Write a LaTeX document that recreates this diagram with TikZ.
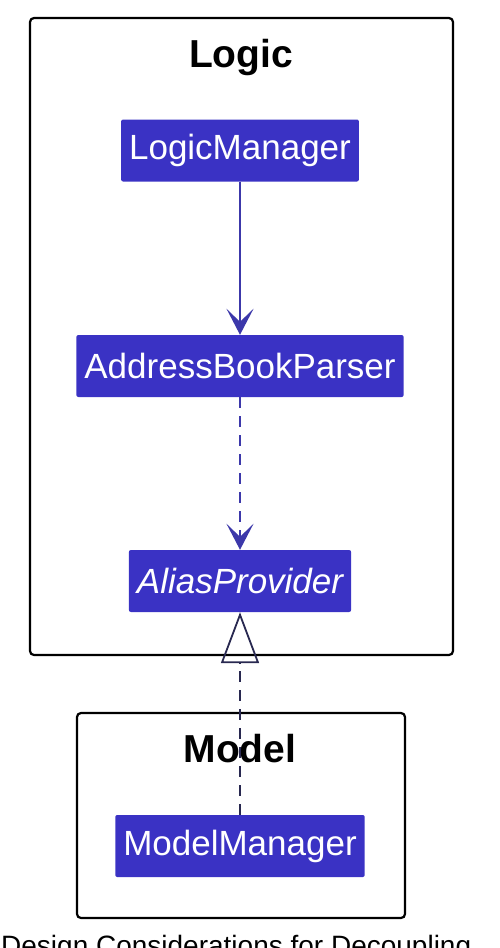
\documentclass[tikz,border=0pt]{standalone}
\usepackage{fontspec}
\setmainfont{Liberation Sans}
\usetikzlibrary{arrows.meta}

\definecolor{classblue}{RGB}{58,50,196}
\definecolor{linkblue}{RGB}{60,56,170}
\definecolor{linkdark}{RGB}{40,40,80}

\tikzset{x=1pt, y=-1pt, node font=\fontsize{35}{40}\selectfont}
\tikzset{
  frame/.style={draw=black, line width=2.2pt, rounded corners=4pt, inner sep=0pt},
  frametitle/.style={font=\fontsize{39}{44}\selectfont\bfseries, anchor=base},
  classbox/.style={fill=classblue, text=white, rounded corners=2pt,
    minimum height=62pt, inner xsep=8pt, inner ysep=0pt},
  assoc/.style={draw=linkblue, line width=2pt,
    -{Stealth[length=26pt, width=27pt, inset=13pt]}},
  dashedlink/.style={dash pattern=on 11pt off 8pt},
  realize/.style={draw=linkdark, line width=1.8pt, dash pattern=on 11pt off 8pt,
    -{Triangle[open, length=51pt, width=38pt, line width=1.8pt]}}
}

\begin{document}
\begin{tikzpicture}
  \useasboundingbox (0,0) rectangle (500,948);

  % packages
  \node [frame, minimum width=423pt, minimum height=637pt] (logic) at (241.5,336.5) {};
  \node [frametitle] (logictitle) at (241,67) {Logic};
  \node [frame, minimum width=328pt, minimum height=205pt] (model) at (241,815.5) {};
  \node [frametitle] (modeltitle) at (240,762) {Model};

  % classes
  \node [classbox] (lm)  at (240,150.5) {LogicManager};
  \node [classbox] (abp) at (240,366)   {AddressBookParser};
  \node [classbox] (ap)  at (240,581)   {\itshape AliasProvider};
  \node [classbox] (mm)  at (240,846)   {ModelManager};

  % relations
  \draw [assoc] (lm) -- (abp);
  \draw [assoc, dashedlink] (abp) -- (ap);
  \draw [realize] (mm) -- (ap);

  % caption below, cut off by the page
  \node [font=\fontsize{28}{32}\selectfont, anchor=base west, inner sep=0pt]
    (caption) at (1,955) {Design Considerations for Decoupling};
\end{tikzpicture}
\end{document}
